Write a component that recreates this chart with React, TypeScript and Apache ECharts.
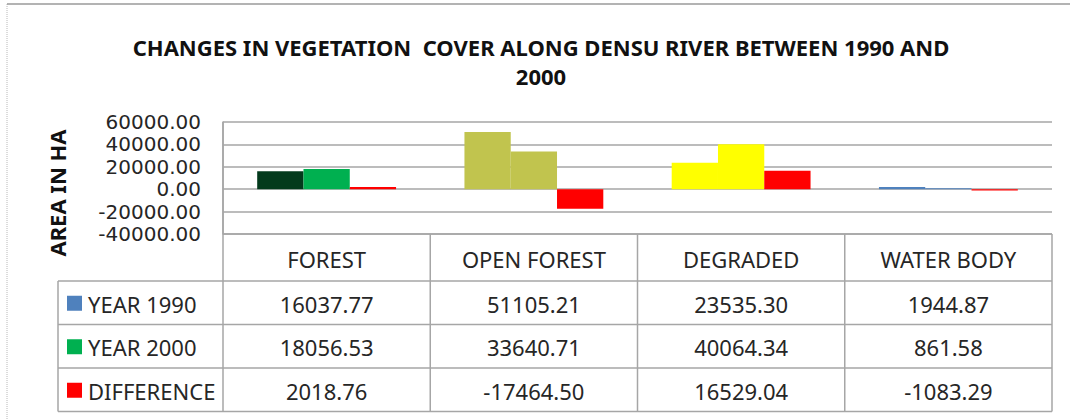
import React, { useEffect, useRef } from "react";
import * as echarts from "echarts";

const titleLines = ["CHANGES IN VEGETATION  COVER ALONG DENSU RIVER BETWEEN 1990 AND", "2000"];
const yAxisTitle = "AREA IN HA";
const categories = ["FOREST", "OPEN FOREST", "DEGRADED", "WATER BODY"];
const seriesNames = ["YEAR 1990", "YEAR 2000", "DIFFERENCE"];
const year1990 = [16037.77, 51105.21, 23535.3, 1944.87];
const year2000 = [18056.53, 33640.71, 40064.34, 861.58];
const difference = [2018.76, -17464.5, 16529.04, -1083.29];
const yMin = -40000;
const yMax = 60000;
const yInterval = 20000;

const color1990 = ["#033A1C", "#C1C44E", "#FFFF00", "#4F81BD"];
const color2000 = ["#00B050", "#C1C44E", "#FFFF00", "#4F81BD"];
const colorDiff = ["#FF0000", "#FF0000", "#FF0000", "#FF0000"];
const legendColors = ["#4F81BD", "#00B050", "#FF0000"];

const FONT = "'Noto Sans', 'Open Sans', sans-serif";
const AXIS_FONT = "'DejaVu Sans', 'Noto Sans', sans-serif";
const GRID_LEFT = 223;
const GRID_RIGHT_X = 1052;
const GRID_TOP = 122;
const GRID_BOTTOM_Y = 234;
const LINE = "#A6A6A6";
const TEXT = "#262626";

export default function App() {
  const ref = useRef<HTMLDivElement>(null);
  useEffect(() => {
    if (!ref.current) return;
    const chart = echarts.init(ref.current, null, { renderer: "svg" });
    const colW = (GRID_RIGHT_X - GRID_LEFT) / categories.length;
    const headerBottom = 281;
    const rowH = (411.5 - headerBottom) / seriesNames.length;
    const tableBottom = headerBottom + rowH * seriesNames.length;
    const legendLeft = 58;
    const rowsData = [year1990, year2000, difference];

    const g: any[] = [];
    // outer chart border (left/top)
    g.push({ type: "line", shape: { x1: 7, y1: 4, x2: 7, y2: 419 }, style: { stroke: "#B8B8B8", lineWidth: 1, lineDash: [1, 1] } });
    g.push({ type: "line", shape: { x1: 7, y1: 4, x2: 1070, y2: 4 }, style: { stroke: "#9A9A9A", lineWidth: 1.5 } });
    // title
    g.push({
      type: "text", x: 541, y: 61,
      style: { text: titleLines.join("\n"), fontFamily: FONT, fontWeight: "bold", fontSize: 22, lineHeight: 29, fill: "#111", align: "center", verticalAlign: "middle" },
    });
    // y axis title
    g.push({
      type: "text", x: 57, y: 193, rotation: Math.PI / 2,
      style: { text: yAxisTitle, fontFamily: FONT, fontWeight: "bold", fontSize: 22, fill: "#111", align: "center", verticalAlign: "middle" },
    });
    // table lines
    const hl = (y: number, x1: number, x2: number) =>
      g.push({ type: "line", shape: { x1, y1: y, x2, y2: y }, style: { stroke: LINE, lineWidth: 1.5 } });
    const vl = (x: number, y1: number, y2: number) =>
      g.push({ type: "line", shape: { x1: x, y1, x2: x, y2 }, style: { stroke: LINE, lineWidth: 1.5 } });
    hl(GRID_BOTTOM_Y, GRID_LEFT, GRID_RIGHT_X);
    for (let r = 0; r <= seriesNames.length; r++) hl(headerBottom + rowH * r, legendLeft, GRID_RIGHT_X);
    vl(GRID_LEFT, GRID_TOP, tableBottom);
    for (let c = 1; c <= categories.length; c++) vl(GRID_LEFT + colW * c, GRID_BOTTOM_Y, tableBottom);
    vl(legendLeft, headerBottom, tableBottom);
    // header texts
    categories.forEach((cat, i) => {
      g.push({
        type: "text", x: GRID_LEFT + colW * (i + 0.5), y: (GRID_BOTTOM_Y + headerBottom) / 2 + 1,
        style: { text: cat, fontFamily: FONT, fontSize: 22, fill: TEXT, align: "center", verticalAlign: "middle" },
      });
    });
    // rows
    seriesNames.forEach((name, r) => {
      const cy = headerBottom + rowH * (r + 0.5) + 1;
      g.push({ type: "rect", shape: { x: 67, y: cy - 8, width: 15, height: 15 }, style: { fill: legendColors[r] } });
      g.push({
        type: "text", x: 88, y: cy,
        style: { text: name, fontFamily: FONT, fontSize: 22, fill: TEXT, align: "left", verticalAlign: "middle" },
      });
      rowsData[r].forEach((v, i) => {
        g.push({
          type: "text", x: GRID_LEFT + colW * (i + 0.5), y: cy,
          style: { text: v.toFixed(2), fontFamily: FONT, fontSize: 22, fill: TEXT, align: "center", verticalAlign: "middle" },
        });
      });
    });

    const mk = (vals: number[], cols: string[]) => vals.map((v, i) => ({ value: v, itemStyle: { color: cols[i] } }));

    chart.setOption({
      animation: false,
      grid: { left: GRID_LEFT, right: 1070 - GRID_RIGHT_X, top: GRID_TOP, bottom: 419 - GRID_BOTTOM_Y, containLabel: false },
      xAxis: {
        type: "category",
        data: categories,
        axisLine: { show: false },
        axisTick: { show: false },
        axisLabel: { show: false },
        splitLine: { show: false },
      },
      yAxis: {
        type: "value",
        min: yMin,
        max: yMax,
        interval: yInterval,
        axisLine: { show: true, lineStyle: { color: LINE, width: 1.5 } },
        axisTick: { show: false },
        axisLabel: {
          formatter: (v: number) => v.toFixed(2),
          fontFamily: AXIS_FONT,
          fontSize: 20,
          lineHeight: 20,
          color: TEXT,
          margin: 22,
        },
        splitLine: { show: true, lineStyle: { color: LINE, width: 1.5 } },
      },
      series: [
        { name: seriesNames[0], type: "bar", data: mk(year1990, color1990), barGap: "0%", barCategoryGap: "33%" },
        { name: seriesNames[1], type: "bar", data: mk(year2000, color2000), barGap: "0%", barCategoryGap: "33%" },
        { name: seriesNames[2], type: "bar", data: mk(difference, colorDiff), barGap: "0%", barCategoryGap: "33%" },
      ],
      graphic: g,
    });
    return () => chart.dispose();
  }, []);
  return (
    <div
      ref={ref}
      style={{ position: "fixed", left: 0, top: 0, width: 1070, height: 419, background: "#fff" }}
    />
  );
}
